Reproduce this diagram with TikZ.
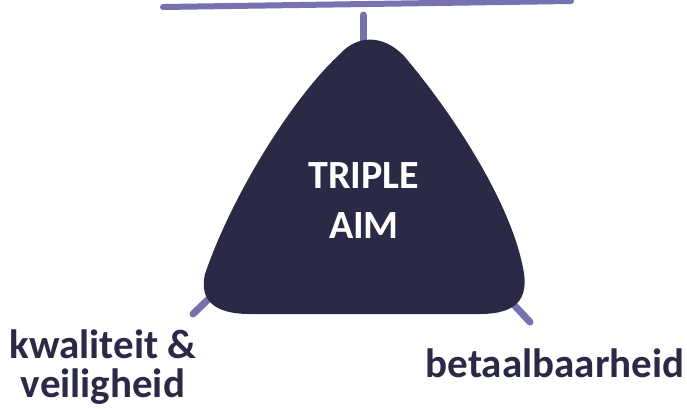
\documentclass[tikz,border=0pt]{standalone}
\usepackage{fontspec}
\setmainfont{Carlito}
\definecolor{navy}{HTML}{2A2946}
\definecolor{stub}{HTML}{7672B0}
\begin{document}
\begin{tikzpicture}[x=1pt,y=-1pt,
  stubline/.style={stub,line width=7pt,line cap=round},
  lbl/.style={text=navy,font=\fontsize{41}{39}\selectfont\bfseries,align=center,inner sep=0pt,anchor=base}]
\useasboundingbox (0,0) rectangle (687,408);
\coordinate (tl) at (163,7);
\coordinate (tr) at (571,1);
\draw[stub,line width=6pt,line cap=round] (tl) -- (tr);
\coordinate (s1a) at (363,15);
\coordinate (s1b) at (363,50);
\coordinate (s2a) at (193,314);
\coordinate (s2b) at (220,288);
\coordinate (s3a) at (530,322);
\coordinate (s3b) at (500,290);
\draw[stubline] (s1a) -- (s1b);
\draw[stubline] (s2a) -- (s2b);
\draw[stubline] (s3a) -- (s3b);
\fill[navy] (360,314) -- (250,314)
  .. controls (214,314) and (199,300) .. (205,274)
  .. controls (230,200) and (290,100) .. (340,54)
  .. controls (356,36) and (382,33) .. (404,56)
  .. controls (450,110) and (510,200) .. (523,268)
  .. controls (530,300) and (515,314) .. (480,314) -- cycle;
\node[lbl,text=white,font=\fontsize{40}{50}\selectfont\bfseries] (aim) at (364,238) {TRIPLE\\AIM};
\node[lbl] (kv) at (103,397) {kwaliteit \&\\veiligheid};
\node[lbl] (bt) at (555,377) {betaalbaarheid};
\end{tikzpicture}
\end{document}
